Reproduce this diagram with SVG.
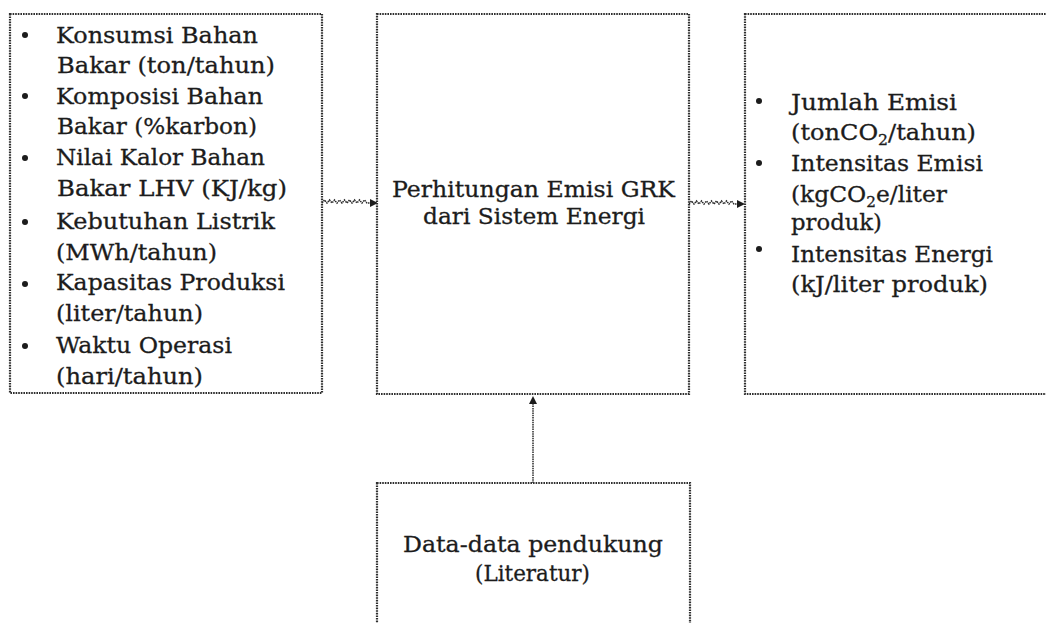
<svg xmlns="http://www.w3.org/2000/svg" width="1046" height="623" viewBox="0 0 1046 623">
  <defs>
    <style>
      .box { fill: #ffffff; stroke: #2e2e2e; stroke-width: 2.2; stroke-dasharray: 1.6 1; }
      .t { font-family: "DejaVu Serif", "Liberation Serif", serif; font-size: 23px; fill: #1c1c1c; stroke: #1c1c1c; stroke-width: 0.3; }
      .sub { font-size: 15px; }
      .bul { fill: #1c1c1c; }
      .conn { fill: none; stroke: #2a2a2a; stroke-width: 1.5; stroke-dasharray: 1.5 0.8; }
    </style>
    <marker id="arr" markerUnits="userSpaceOnUse" markerWidth="10" markerHeight="10" refX="1" refY="4" orient="auto">
      <path d="M0,0 L8,4 L0,8 z" fill="#1c1c1c"/>
    </marker>
  </defs>
  <rect width="1046" height="623" fill="#ffffff"/>

  <g id="connectors">
    <path class="conn" marker-end="url(#arr)" d="M322 203 l2.5 -3 l2.5 3 l2.5 -3 l2.5 3 l2.5 -3 l2.5 3 l2.5 -3 l2.5 3 l2.5 -3 l2.5 3 l2.5 -3 l2.5 3 l2.5 -3 l2.5 3 l2.5 -3 l2.5 3 l2.5 -3 l2.5 3 H371"/>
    <path class="conn" marker-end="url(#arr)" d="M689 204 l2.5 -3 l2.5 3 l2.5 -3 l2.5 3 l2.5 -3 l2.5 3 l2.5 -3 l2.5 3 l2.5 -3 l2.5 3 l2.5 -3 l2.5 3 l2.5 -3 l2.5 3 l2.5 -3 l2.5 3 l2.5 -3 l2.5 3 H738"/>
    <path class="conn" marker-end="url(#arr)" d="M533 483 V403"/>
  </g>

  <g id="node-input">
    <rect class="box" x="10" y="14" width="312" height="379"/>
    <circle class="bul" cx="25" cy="35" r="3"/>
    <circle class="bul" cx="25" cy="96" r="3"/>
    <circle class="bul" cx="25" cy="158" r="3"/>
    <circle class="bul" cx="25" cy="222" r="3"/>
    <circle class="bul" cx="25" cy="284" r="3"/>
    <circle class="bul" cx="25" cy="346" r="3"/>
    <text class="t" x="56" y="43" textLength="202" lengthAdjust="spacingAndGlyphs">Konsumsi Bahan</text>
    <text class="t" x="57" y="73" textLength="218" lengthAdjust="spacingAndGlyphs">Bakar (ton/tahun)</text>
    <text class="t" x="56" y="104" textLength="207" lengthAdjust="spacingAndGlyphs">Komposisi Bahan</text>
    <text class="t" x="57" y="134" textLength="200" lengthAdjust="spacingAndGlyphs">Bakar (%karbon)</text>
    <text class="t" x="56" y="165" textLength="209" lengthAdjust="spacingAndGlyphs">Nilai Kalor Bahan</text>
    <text class="t" x="57" y="196" textLength="230" lengthAdjust="spacingAndGlyphs">Bakar LHV (KJ/kg)</text>
    <text class="t" x="56" y="229" textLength="219" lengthAdjust="spacingAndGlyphs">Kebutuhan Listrik</text>
    <text class="t" x="56" y="260" textLength="161" lengthAdjust="spacingAndGlyphs">(MWh/tahun)</text>
    <text class="t" x="56" y="290" textLength="229" lengthAdjust="spacingAndGlyphs">Kapasitas Produksi</text>
    <text class="t" x="56" y="321" textLength="147" lengthAdjust="spacingAndGlyphs">(liter/tahun)</text>
    <text class="t" x="56" y="353" textLength="176" lengthAdjust="spacingAndGlyphs">Waktu Operasi</text>
    <text class="t" x="56" y="384" textLength="147" lengthAdjust="spacingAndGlyphs">(hari/tahun)</text>
  </g>

  <g id="node-process">
    <rect class="box" x="377" y="14" width="312" height="380"/>
    <text class="t" x="533.5" y="197" text-anchor="middle" textLength="283" lengthAdjust="spacingAndGlyphs">Perhitungan Emisi GRK</text>
    <text class="t" x="534" y="224" text-anchor="middle" textLength="222" lengthAdjust="spacingAndGlyphs">dari Sistem Energi</text>
  </g>

  <g id="node-output">
    <rect class="box" x="745" y="14" width="320" height="380"/>
    <circle class="bul" cx="759" cy="101" r="3"/>
    <circle class="bul" cx="759" cy="163" r="3"/>
    <circle class="bul" cx="759" cy="249" r="3"/>
    <text class="t" x="791" y="110" textLength="166" lengthAdjust="spacingAndGlyphs">Jumlah Emisi</text>
    <text class="t" x="791" y="140" textLength="185" lengthAdjust="spacingAndGlyphs">(tonCO<tspan class="sub" dy="5">2</tspan><tspan dy="-5">/tahun)</tspan></text>
    <text class="t" x="791" y="171" textLength="192" lengthAdjust="spacingAndGlyphs">Intensitas Emisi</text>
    <text class="t" x="791" y="202" textLength="156" lengthAdjust="spacingAndGlyphs">(kgCO<tspan class="sub" dy="5">2</tspan><tspan dy="-5">e/liter</tspan></text>
    <text class="t" x="791" y="230" textLength="91" lengthAdjust="spacingAndGlyphs">produk)</text>
    <text class="t" x="791" y="262" textLength="202" lengthAdjust="spacingAndGlyphs">Intensitas Energi</text>
    <text class="t" x="791" y="292" textLength="197" lengthAdjust="spacingAndGlyphs">(kJ/liter produk)</text>
  </g>

  <g id="node-support">
    <rect class="box" x="377" y="483" width="313" height="170"/>
    <text class="t" x="533" y="552" text-anchor="middle" textLength="260" lengthAdjust="spacingAndGlyphs">Data-data pendukung</text>
    <text class="t" x="532.5" y="581" text-anchor="middle" textLength="115" lengthAdjust="spacingAndGlyphs">(Literatur)</text>
  </g>
</svg>
